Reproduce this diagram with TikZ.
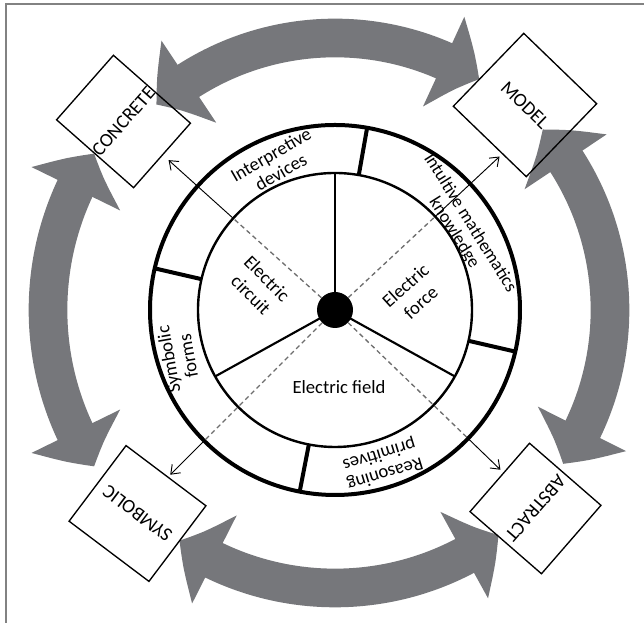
\documentclass[tikz,border=0pt]{standalone}
\usepackage{fontspec}
\setmainfont{Carlito}
\usetikzlibrary{arrows.meta,bending,calc}
\definecolor{arrowgray}{RGB}{118,119,123}
\definecolor{framegray}{RGB}{130,130,130}
\definecolor{dashgray}{RGB}{110,110,110}
\begin{document}
\begin{tikzpicture}[x=0.75pt,y=0.75pt,
  bigarrow/.style={draw=arrowgray, line width=29pt,
    {Triangle[width=72pt,length=30pt,bend]}-{Triangle[width=72pt,length=30pt,bend]}},
  boxst/.style={draw=black, line width=1pt, rectangle, inner sep=0pt,
    font=\fontsize{14.5pt}{15pt}\selectfont},
  ringlbl/.style={align=center, inner sep=0pt, font=\fontsize{14pt}{15pt}\selectfont},
  seclbl/.style={align=center, inner sep=0pt, font=\fontsize{14pt}{17pt}\selectfont},
  dashln/.style={draw=dashgray, line width=1pt, dash pattern=on 3.5pt off 2.5pt},
  tipln/.style={draw=black, line width=0.7pt, -{Straight Barb[length=6pt,width=9pt]}}
]
\useasboundingbox (0,0) rectangle (644,623);
\draw[framegray, line width=1.5pt] (6,0) -- (6,619) -- (644,619);
\coordinate (C) at (335,313);

% gray double arrows
\draw[bigarrow] ($(C)+(131:272)$) arc[start angle=131, end angle=58, radius=272];
\draw[bigarrow] ($(C)+(147:287)$) arc[start angle=147, end angle=213, radius=287];
\draw[bigarrow] ($(C)+(41:275)$) arc[start angle=41, end angle=-34, radius=275];
\draw[bigarrow] ($(C)+(236:278)$) arc[start angle=236, end angle=306, radius=278];

% ring
\draw[line width=3pt] (C) circle[radius=185];
\draw[line width=1.8pt] (C) circle[radius=137];
\foreach \a in {80,167,259,347}
  \draw[line width=3pt] ($(C)+(\a:137)$) -- ($(C)+(\a:185)$);
\foreach \a in {90,209,331}
  \draw[line width=1.6pt] (C) -- ($(C)+(\a:137)$);

\node[circle, fill=black, minimum size=27pt, inner sep=0pt] (hub) at (C) {};

% diagonal connectors
\coordinate (xUL) at ($(C)+(138:137)$);
\coordinate (xUR) at ($(C)+(43:137)$);
\coordinate (xLL) at ($(C)+(225:185)$);
\coordinate (xLR) at ($(C)+(316:185)$);
\coordinate (tUL) at ($(C)+(138:224)$);
\coordinate (tUR) at ($(C)+(43:225)$);
\coordinate (tLL) at ($(C)+(225:233)$);
\coordinate (tLR) at ($(C)+(316:230)$);
\draw[dashln] (hub) -- (xUL);
\draw[dashln] (hub) -- (xUR);
\draw[dashln] (hub) -- (xLL);
\draw[dashln] (hub) -- (xLR);
\draw[tipln] (xUL) -- (tUL);
\draw[tipln] (xUR) -- (tUR);
\draw[tipln] (xLL) -- (tLL);
\draw[tipln] (xLR) -- (tLR);

% ring labels
\node[ringlbl, rotate=30] (lid) at ($(C)+(112:158)$) {Interpretive\\devices};
\node[ringlbl, rotate=-58, font=\fontsize{13.5pt}{14pt}\selectfont] (lim) at ($(C)+(127,82)$) {Intultive mathematics\\knowledge};
\node[ringlbl, rotate=100] (lsf) at ($(C)+(197:164)$) {Symbolic\\forms};
\node[ringlbl, rotate=197] (lrp) at ($(C)+(287:161)$) {Reasoning\\primitives};

% sector labels
\node[seclbl, rotate=-45] (ecir) at ($(C)+(-76,23.5)$) {Electric\\circuit};
\node[seclbl, rotate=42] (efor) at ($(C)+(78,16)$) {Electric\\force};
\node[seclbl] (efld) at ($(C)+(4,-77)$) {Electric field};

% corner boxes
\node[boxst, rotate=48.6, minimum width=64.5pt, minimum height=77pt] (concrete) at (123.5,501.5) {CONCRETE};
\node[boxst, rotate=-44, minimum width=76pt, minimum height=76pt] (model) at (525,518) {MODEL};
\node[boxst, rotate=229, minimum width=68pt, minimum height=71pt] (abstract) at (535.5,114.5) {ABSTRACT};
\node[boxst, rotate=143, minimum width=75pt, minimum height=71pt] (symbolic) at (137.5,109.5) {SYMBOLIC};
\end{tikzpicture}
\end{document}
